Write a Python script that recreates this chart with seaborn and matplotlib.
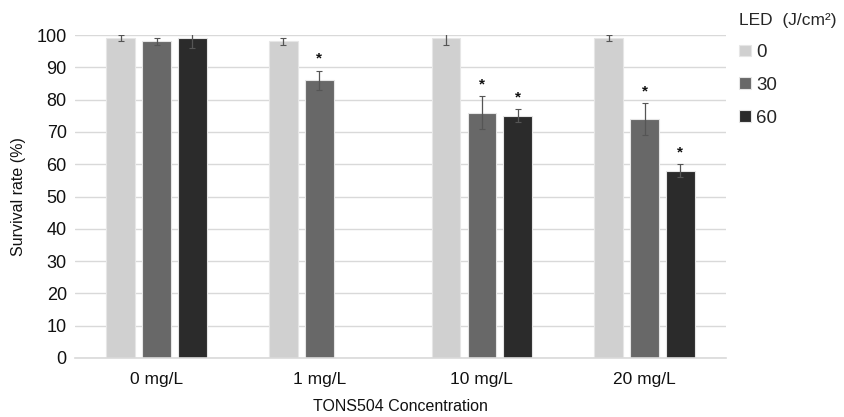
import numpy as np
import pandas as pd
import seaborn as sns
import matplotlib.pyplot as plt

sns.set_theme(style="white")
plt.rcParams['font.family'] = ['Liberation Sans', 'DejaVu Sans']

# data
concentrations = ['0 mg/L', '1 mg/L', '10 mg/L', '20 mg/L']
led_doses = ['0', '30', '60']
survival_0 = [99, 98, 99, 99]
survival_30 = [98, 86, 76, 74]
survival_60 = [99, np.nan, 75, 58]
err_0 = [1, 1, 2, 1]
err_30 = [1, 3, 5, 5]
err_60 = [3, np.nan, 2, 2]
signif_30 = [False, True, True, True]
signif_60 = [False, False, True, True]

colors = ['#d0d0d0', '#686868', '#2b2b2b']

rows = []
for dose, vals, errs, sig in [('0', survival_0, err_0, [False] * 4),
                              ('30', survival_30, err_30, signif_30),
                              ('60', survival_60, err_60, signif_60)]:
    for c, v, e, s in zip(concentrations, vals, errs, sig):
        rows.append({'conc': c, 'led': dose, 'rate': v, 'err': e, 'sig': s})
df = pd.DataFrame(rows)

fig = plt.figure(figsize=(8.45, 4.17), dpi=100)
ax = fig.add_axes([0.089, 0.1415, 0.77, 0.7745])

sns.barplot(data=df.dropna(), x='conc', y='rate', hue='led', order=concentrations,
            hue_order=led_doses, palette=colors, width=0.66, gap=0.2,
            errorbar=None, edgecolor='#e6e6e6', linewidth=0.8, ax=ax, legend=True)

# error bars and stars, placed at the dodge offsets
offsets = {'0': -0.22, '30': 0.0, '60': 0.22}
for _, r in df.dropna().iterrows():
    x = concentrations.index(r['conc']) + offsets[r['led']]
    ax.errorbar(x, r['rate'], yerr=r['err'], fmt='none', ecolor='#555555',
                elinewidth=0.9, capsize=2.2, capthick=0.8, clip_on=True, zorder=3)
    if r['sig']:
        ax.text(x, r['rate'] + r['err'] + 1.5, '*', ha='center', va='bottom',
                fontsize=11, fontweight='bold', color='#111111')

ax.set_ylim(0, 100)
ax.set_xlim(-0.5, 3.5)
ax.set_yticks(range(0, 101, 10))
ax.yaxis.grid(True, color='#d9d9d9', linewidth=1)
ax.set_axisbelow(True)
for s in ['top', 'right', 'left']:
    ax.spines[s].set_visible(False)
ax.spines['bottom'].set_color('#d9d9d9')
ax.spines['bottom'].set_linewidth(1.2)
ax.tick_params(axis='y', length=0, labelsize=13, colors='#111111', pad=6)
ax.tick_params(axis='x', length=0, labelsize=12.5, colors='#111111', pad=10)
ax.set_ylabel('Survival rate (%)', fontsize=11.5, color='#111111', labelpad=8)
ax.set_xlabel('TONS504 Concentration', fontsize=11.5, color='#111111', labelpad=9)

handles, labels = ax.get_legend_handles_labels()
ax.legend(handles, labels, title='LED  (J/cm²)', loc='upper left',
          bbox_to_anchor=(0.995, 1.12), frameon=False, fontsize=13.5,
          title_fontsize=12.5, handlelength=0.6, handleheight=0.6,
          handletextpad=0.3, labelspacing=0.85, alignment='left')

fig.savefig('out.png', dpi=100)
